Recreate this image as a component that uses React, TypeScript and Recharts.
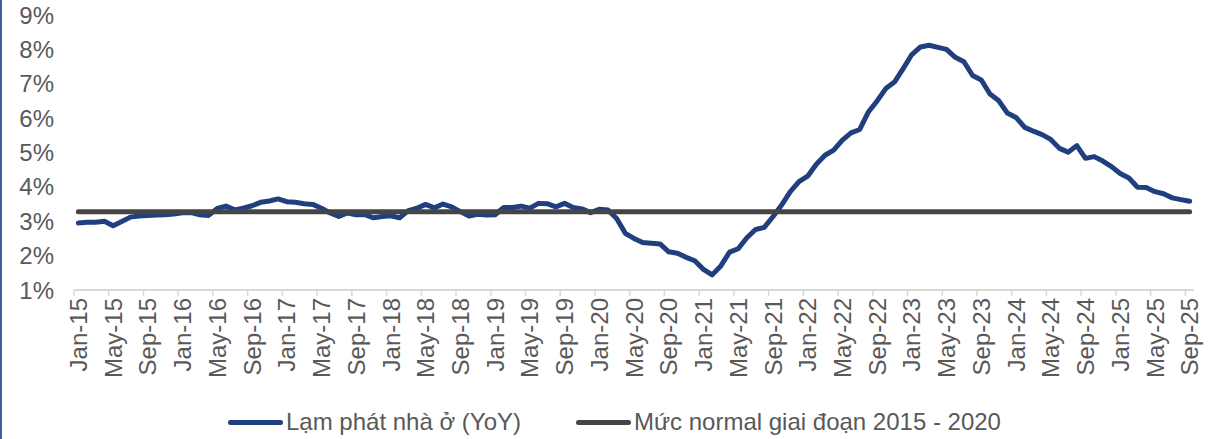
import { LineChart, Line, XAxis, YAxis, Legend } from 'recharts';

const MONTHS = ['Jan', 'Feb', 'Mar', 'Apr', 'May', 'Jun', 'Jul', 'Aug', 'Sep', 'Oct', 'Nov', 'Dec'];
const FIRST_YEAR = 15; // Jan-15

// Lạm phát nhà ở (YoY), %, Jan-15 .. Sep-25
const housingYoY = [
  2.95, 2.97, 2.97, 3.0, 2.87, 2.99, 3.12, 3.15, 3.17, 3.18, 3.19, 3.21,
  3.25, 3.25, 3.19, 3.17, 3.37, 3.44, 3.33, 3.38, 3.45, 3.55, 3.59, 3.65,
  3.57, 3.55, 3.51, 3.49, 3.38, 3.24, 3.14, 3.24, 3.19, 3.19, 3.1, 3.14,
  3.16, 3.1, 3.31, 3.38, 3.49, 3.39, 3.5, 3.42, 3.28, 3.15, 3.2, 3.18,
  3.19, 3.4, 3.4, 3.44, 3.38, 3.52, 3.51, 3.42, 3.52, 3.4, 3.36, 3.25,
  3.35, 3.33, 3.08, 2.65, 2.5, 2.38, 2.36, 2.34, 2.11, 2.07, 1.95, 1.85,
  1.6, 1.44, 1.7, 2.1, 2.2, 2.52, 2.76, 2.82, 3.13, 3.47, 3.86, 4.15,
  4.31, 4.66, 4.92, 5.07, 5.36, 5.57, 5.67, 6.18, 6.5, 6.86, 7.05, 7.44,
  7.85, 8.07, 8.12, 8.06, 8.0, 7.77, 7.64, 7.24, 7.11, 6.7, 6.51, 6.15,
  6.02, 5.73, 5.62, 5.52, 5.38, 5.12, 5.01, 5.2, 4.83, 4.88, 4.75, 4.59,
  4.39, 4.26, 3.99, 3.98, 3.86, 3.8, 3.68, 3.63, 3.58,
];

// Mức normal giai đoạn 2015 - 2020
const NORMAL_LEVEL = 3.28;

const yTicks = [1, 2, 3, 4, 5, 6, 7, 8, 9];
const xTickStep = 4;

const monthLabels = housingYoY.map((_, i) => `${MONTHS[i % 12]}-${FIRST_YEAR + Math.floor(i / 12)}`);
const xTicks = monthLabels.map((_, i) => i).filter((i) => i % xTickStep === 0);

const data = housingYoY.map((v, i) => ({
  idx: i,
  label: monthLabels[i],
  yoy: v,
  normal: NORMAL_LEVEL,
}));

const WIDTH = 1209;
const HEIGHT = 439;
const MARGIN = { top: 15, right: 15, left: 0, bottom: 0 };
const Y_AXIS_W = 74;
const HALF_CAT = (WIDTH - MARGIN.right - Y_AXIS_W) / housingYoY.length / 2;

const FONT = '"Liberation Sans", Arial, sans-serif';
const TEXT = '#595959';
const BLUE = '#203F7F';
const GREY = '#454545';

function MonthTick(props: any) {
  const { x, y, payload } = props;
  return (
    <g>
      <line x1={x - HALF_CAT} y1={y} x2={x - HALF_CAT} y2={y + 6} stroke="#D9D9D9" strokeWidth={1.5} />
      <text
        x={x}
        y={y + 8}
        dy="0.36em"
        transform={`rotate(-90, ${x}, ${y + 8})`}
        textAnchor="end"
        fill={TEXT}
        fontSize={24}
        fontFamily={FONT}
      >
        {monthLabels[payload.value]}
      </text>
    </g>
  );
}

function LegendBox() {
  const item = (color: string, text: string) => (
    <div style={{ display: 'flex', alignItems: 'center' }}>
      <div style={{ width: 55, height: 5, borderRadius: 3, background: color, marginRight: 3 }} />
      <span>{text}</span>
    </div>
  );
  return (
    <div
      style={{
        display: 'flex',
        gap: 55,
        fontFamily: FONT,
        fontSize: 24,
        color: TEXT,
        height: 34,
        alignItems: 'center',
      }}
    >
      {item(BLUE, 'Lạm phát nhà ở (YoY)')}
      {item(GREY, 'Mức normal giai đoạn 2015 - 2020')}
    </div>
  );
}

export default function App() {
  return (
    <div
      style={{
        position: 'absolute',
        left: 0,
        top: 0,
        width: WIDTH,
        height: HEIGHT,
        background: '#fff',
        boxSizing: 'border-box',
        borderLeft: '2px solid #3F5F9F',
      }}
    >
      <LineChart width={WIDTH} height={HEIGHT} data={data} margin={MARGIN} style={{ marginLeft: -2 }}>
        <XAxis
          dataKey="idx"
          type="number"
          domain={[-0.5, housingYoY.length - 0.5]}
          ticks={xTicks}
          interval={0}
          tick={<MonthTick />}
          tickLine={false}
          tickSize={0}
          tickMargin={0}
          height={115}
          axisLine={{ stroke: '#D9D9D9', strokeWidth: 2 }}
        />
        <YAxis
          domain={[1, 9]}
          ticks={yTicks}
          width={Y_AXIS_W}
          axisLine={false}
          tickLine={false}
          tickSize={0}
          tickMargin={20}
          tickFormatter={(v: number) => `${v}%`}
          tick={{ fill: TEXT, fontSize: 24, fontFamily: FONT }}
        />
        <Legend
          verticalAlign="bottom"
          align="left"
          content={<LegendBox />}
          wrapperStyle={{ left: 228, width: 900, height: 34 }}
        />
        <Line
          type="linear"
          dataKey="yoy"
          stroke={BLUE}
          strokeWidth={5}
          strokeLinecap="round"
          strokeLinejoin="round"
          dot={false}
          activeDot={false}
          isAnimationActive={false}
        />
        <Line
          type="linear"
          dataKey="normal"
          stroke={GREY}
          strokeWidth={5}
          strokeLinecap="round"
          dot={false}
          activeDot={false}
          isAnimationActive={false}
        />
      </LineChart>
    </div>
  );
}
